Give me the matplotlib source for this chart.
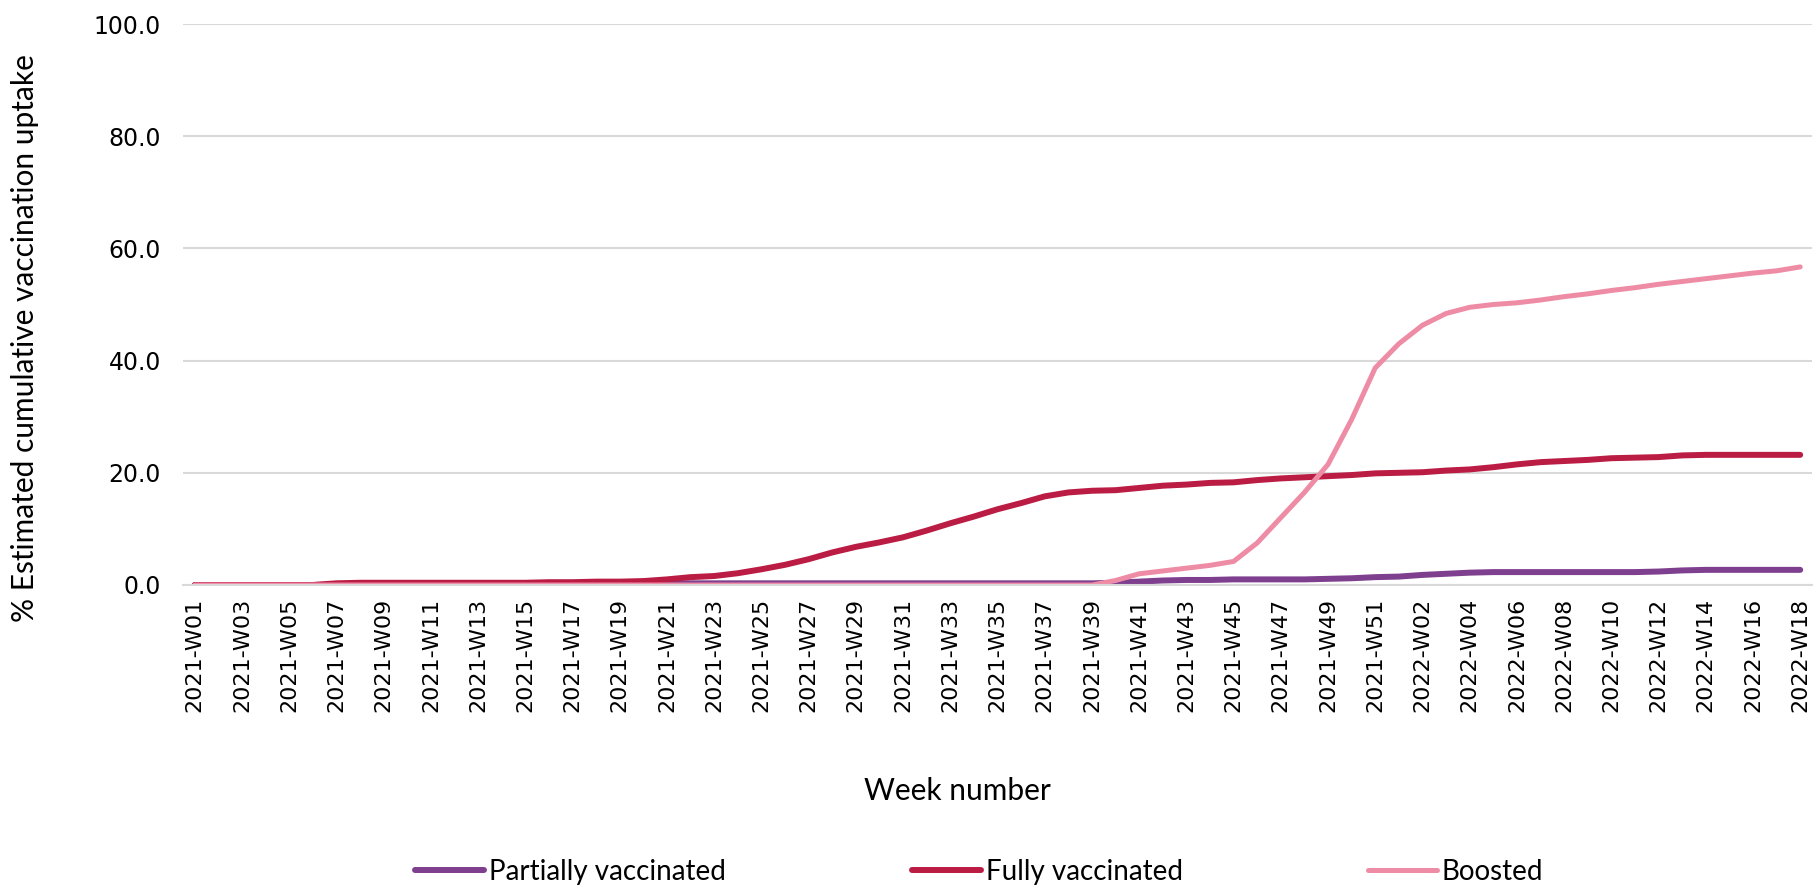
import numpy as np
import matplotlib.pyplot as plt

# Week labels (2021-W52 present, 2022-W01 not in the series)
weeks = ["2021-W%02d" % w for w in range(1, 53)] + ["2022-W%02d" % w for w in range(2, 19)]

partially = [0.0, 0.0, 0.0, 0.0, 0.0, 0.0, 0.1, 0.1, 0.1, 0.1,
             0.1, 0.1, 0.1, 0.1, 0.1, 0.1, 0.1, 0.1, 0.1, 0.1,
             0.3, 0.3, 0.3, 0.3, 0.3, 0.3, 0.3, 0.3, 0.3, 0.3,
             0.3, 0.3, 0.3, 0.3, 0.3, 0.3, 0.3, 0.3, 0.3, 0.4,
             0.6, 0.8, 0.9, 0.9, 1.0, 1.0, 1.0, 1.0, 1.1, 1.2,
             1.4, 1.5, 1.8, 2.0, 2.2, 2.3, 2.3, 2.3, 2.3, 2.3,
             2.3, 2.3, 2.4, 2.6, 2.7, 2.7, 2.7, 2.7, 2.7]

fully = [0.0, 0.0, 0.0, 0.0, 0.0, 0.0, 0.3, 0.4, 0.4, 0.4,
         0.4, 0.4, 0.4, 0.4, 0.4, 0.5, 0.5, 0.6, 0.6, 0.7,
         1.0, 1.4, 1.6, 2.1, 2.8, 3.6, 4.6, 5.8, 6.8, 7.6,
         8.5, 9.7, 11.0, 12.2, 13.5, 14.6, 15.8, 16.5, 16.8, 16.9,
         17.3, 17.7, 17.9, 18.2, 18.3, 18.7, 19.0, 19.2, 19.4, 19.6,
         19.9, 20.0, 20.1, 20.4, 20.6, 21.0, 21.5, 21.9, 22.1, 22.3,
         22.6, 22.7, 22.8, 23.1, 23.2, 23.2, 23.2, 23.2, 23.2]

boosted = [0.0] * 39 + [0.8,
           2.0, 2.5, 3.0, 3.5, 4.2, 7.5, 12.0, 16.5, 21.5, 29.5,
           38.7, 43.0, 46.3, 48.4, 49.5, 50.0, 50.3, 50.8, 51.4, 51.9,
           52.5, 53.0, 53.6, 54.1, 54.6, 55.1, 55.6, 56.0, 56.7]

x = np.arange(len(weeks))

fig = plt.figure(figsize=(18.16, 8.9), dpi=100)
ax = fig.add_axes([183/1816, 1 - 585/890, (1812-183)/1816, (585-24)/890])

l1, = ax.plot(x, partially, color='#7E3F8E', lw=4.3, solid_capstyle='round')
l2, = ax.plot(x, fully, color='#BA1C44', lw=4.3, solid_capstyle='round')
l3, = ax.plot(x, boosted, color='#EE8CA6', lw=3.6, solid_capstyle='round')

ax.set_xlim(-0.5, len(weeks) - 0.5)
ax.set_ylim(0, 100)
ax.set_yticks(np.arange(0, 101, 20))
ax.set_yticklabels(["%.1f" % v for v in np.arange(0, 101, 20)], fontsize=17)
ax.set_xticks(x[::2])
ax.set_xticklabels(weeks[::2], rotation=90, fontsize=16)
ax.tick_params(axis='both', length=0)
ax.tick_params(axis='y', pad=16)
ax.tick_params(axis='x', pad=9)
ax.grid(axis='y', color='#D9D9D9', lw=1.5)
ax.set_axisbelow(True)
for s in ['top', 'right', 'left']:
    ax.spines[s].set_visible(False)
ax.spines['bottom'].set_color('#D9D9D9')
ax.spines['bottom'].set_linewidth(1.5)

fig.text(25/1816, 1 - 338/890, "% Estimated cumulative vaccination uptake",
         rotation=90, ha='center', va='center', fontsize=21.5, family='Lato')
fig.text(957/1816, 1 - 791/890, "Week number", ha='center', va='center',
         fontsize=21.5, family='Lato')

# legend: three separate entries spread like the original
for h, lab, xs in [(l1, "Partially vaccinated", 415), (l2, "Fully vaccinated", 912),
                   (l3, "Boosted", 1368)]:
    fig.legend([h], [lab], loc='center left', bbox_to_anchor=(xs/1816, 1 - 872/890),
               frameon=False, handlelength=2.5, handletextpad=0.15,
               borderaxespad=0, borderpad=0,
               prop={'family': 'Lato', 'size': 20})

fig.savefig('out.png', dpi=100)
